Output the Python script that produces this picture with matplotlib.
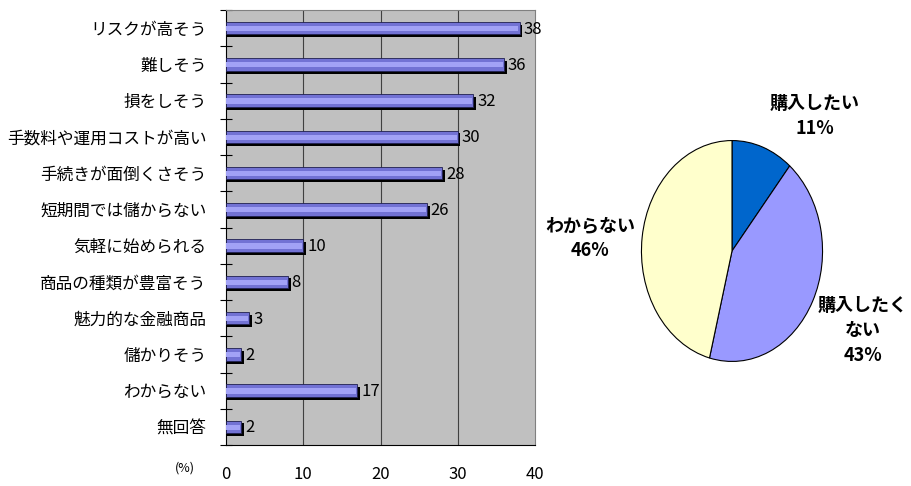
import numpy as np
import matplotlib
matplotlib.use('Agg')
from matplotlib import pyplot as plt

plt.rcParams['font.family'] = ['Noto Sans CJK JP', 'DejaVu Sans']

# bar chart data (top to bottom)
reasons = ['リスクが高そう', '難しそう', '損をしそう', '手数料や運用コストが高い',
           '手続きが面倒くさそう', '短期間では儲からない', '気軽に始められる',
           '商品の種類が豊富そう', '魅力的な金融商品', '儲かりそう', 'わからない', '無回答']
reason_pct = [38, 36, 32, 30, 28, 26, 10, 8, 3, 2, 17, 2]
x_ticks = [0, 10, 20, 30, 40]

# pie chart data
pie_labels = ['購入したい', '購入したく\nない', 'わからない']
pie_pct = [11, 43, 46]
pie_colors = ['#0066CC', '#9999FF', '#FFFFCC']

W, H = 911, 486
fig = plt.figure(figsize=(W / 100., H / 100.), dpi=100)

def px_axes(x0, y0, x1, y1):
    # pixel box (top-left origin) -> figure axes
    return fig.add_axes([x0 / W, 1 - y1 / H, (x1 - x0) / W, (y1 - y0) / H])

# ---- bar chart ----
ax = px_axes(226, 10, 535, 445)
ax.set_facecolor('#C0C0C0')
n = len(reasons)
ypos = np.arange(n)
h = 0.35
# shadow
ax.barh(ypos + 0.08, np.array(reason_pct) + 0.35, height=h, color='black', zorder=2)
# main bar with a lighter centre stripe
ax.barh(ypos, reason_pct, height=h, color='#7272D4', edgecolor='#202050',
        linewidth=0.6, zorder=3)
ax.barh(ypos + 0.01, np.array(reason_pct) - 0.15, height=h * 0.4,
        color='#A2A2F6', linewidth=0, zorder=4)
for y, v in zip(ypos, reason_pct):
    ax.text(v + 0.5, y + 0.03, str(v), va='center', ha='left', fontsize=12, zorder=5)

ax.set_xlim(0, 40)
ax.set_ylim(n - 0.5, -0.5)
ax.set_xticks(x_ticks)
ax.set_xticklabels([str(t) for t in x_ticks], fontsize=12)
ax.tick_params(axis='x', length=0, pad=15)
ax.set_yticks(ypos)
ax.set_yticklabels(reasons, fontsize=12)
ax.tick_params(axis='y', which='major', length=0, pad=14)
ax.set_yticks(np.arange(n + 1) - 0.5, minor=True)
ax.tick_params(axis='y', which='minor', direction='inout', length=8, width=0.8)
for t in x_ticks[1:-1]:
    ax.axvline(t, color='#404040', linewidth=0.8, zorder=1)
ax.spines['left'].set_color('black')
ax.spines['bottom'].set_color('black')
ax.spines['top'].set_color('#808080')
ax.spines['right'].set_color('#808080')
fig.text(185 / W, 1 - 468 / H, '(%)', fontsize=9, ha='center', va='center')

# ---- pie chart ----
pax = px_axes(641, 140, 823, 362)
pax.pie(pie_pct, colors=pie_colors, startangle=90, counterclock=False,
        wedgeprops=dict(edgecolor='black', linewidth=0.8))
pax.set_aspect('auto')
pax.set_xlim(-1.005, 1.005)
pax.set_ylim(-1.005, 1.005)

lab_pos = [(815, 116), (863, 330), (590, 238)]
for lab, p, (lx, ly) in zip(pie_labels, pie_pct, lab_pos):
    fig.text(lx / W, 1 - ly / H, '%s\n%d%%' % (lab, p), ha='center', va='center',
             fontsize=13, fontweight='bold', linespacing=1.4)

plt.savefig('out.png', dpi=100)
